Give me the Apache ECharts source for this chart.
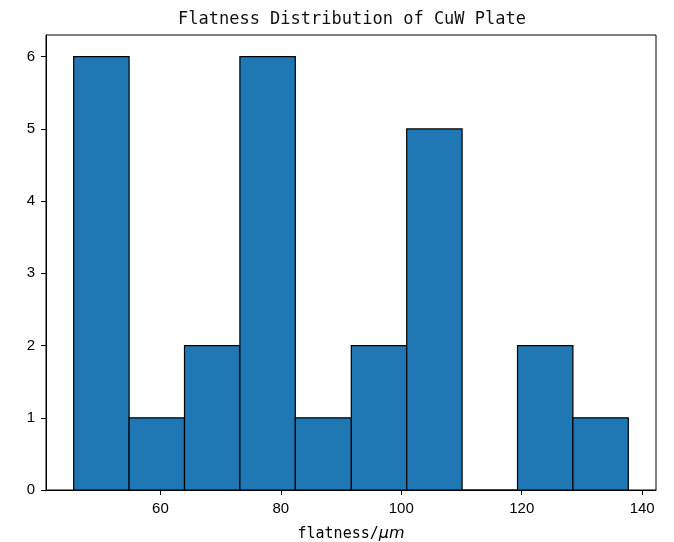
<!DOCTYPE html>
<html>
<head>
<meta charset="utf-8">
<script src="https://cdn.jsdelivr.net/npm/echarts@6/dist/echarts.min.js"></script>
<style>
  html, body { margin: 0; padding: 0; background: #fff; }
  #main { width: 674px; height: 542px; }
</style>
</head>
<body>
<div id="main"></div>
<script>
// histogram bins
var binEdges = [45.6, 54.8, 64.0, 73.2, 82.4, 91.7, 100.9, 110.1, 119.3, 128.5, 137.7];
var counts = [6, 1, 2, 6, 1, 2, 5, 0, 2, 1];
var xTicks = [60, 80, 100, 120, 140];
var yTicks = [0, 1, 2, 3, 4, 5, 6];

var bins = [];
for (var i = 0; i < counts.length; i++) {
    bins.push([binEdges[i], binEdges[i + 1], counts[i]]);
}

var chart = echarts.init(document.getElementById('main'), null, { renderer: 'canvas' });
var labelFont = "'Liberation Sans Narrow', 'Liberation Sans', sans-serif";
var option = {
    backgroundColor: '#fff',
    animation: false,
    title: {
        text: 'Flatness Distribution of CuW Plate',
        left: 347,
        textAlign: 'center',
        top: 6,
        textStyle: {
            fontFamily: 'DejaVu Sans Mono',
            fontWeight: 'normal',
            fontSize: 17,
            color: '#111'
        }
    },
    grid: {
        left: 46,
        right: 18,
        top: 35,
        bottom: 52,
        show: true,
        borderColor: '#000',
        borderWidth: 1,
        containLabel: false,
        outerBoundsMode: 'none'
    },
    xAxis: {
        type: 'value',
        min: 41.0,
        max: 142.3,
        name: '{a|flatness/}{b|μm}',
        nameLocation: 'middle',
        nameGap: 36,
        nameTextStyle: {
            rich: {
                a: { fontFamily: 'DejaVu Sans Mono', fontSize: 15, color: '#000' },
                b: { fontFamily: 'DejaVu Sans', fontStyle: 'italic', fontSize: 16, color: '#000' }
            }
        },
        splitLine: { show: false },
        axisLine: { onZero: false, lineStyle: { color: '#000', width: 1 } },
        axisTick: { show: true, length: 5, customValues: xTicks, lineStyle: { color: '#000' } },
        axisLabel: {
            customValues: xTicks,
            margin: 11,
            color: '#000',
            fontFamily: labelFont,
            fontSize: 15
        }
    },
    yAxis: {
        type: 'value',
        min: 0,
        max: 6.3,
        splitLine: { show: false },
        axisLine: { show: true, lineStyle: { color: '#000', width: 1 } },
        axisTick: { show: true, length: 5, customValues: yTicks, lineStyle: { color: '#000' } },
        axisLabel: {
            customValues: yTicks,
            margin: 11,
            color: '#000',
            fontFamily: labelFont,
            fontSize: 15
        }
    },
    series: [{
        type: 'custom',
        data: bins,
        encode: { x: [0, 1], y: 2 },
        renderItem: function (params, api) {
            var p0 = api.coord([api.value(0), api.value(2)]);
            var p1 = api.coord([api.value(1), 0]);
            return {
                type: 'rect',
                shape: { x: p0[0], y: p0[1], width: p1[0] - p0[0], height: p1[1] - p0[1] },
                style: { fill: '#1f77b4', stroke: '#000', lineWidth: 1.2 }
            };
        }
    }]
};
chart.setOption(option);
window.addEventListener('resize', function () {
    chart.resize();
});
</script>
</body>
</html>
